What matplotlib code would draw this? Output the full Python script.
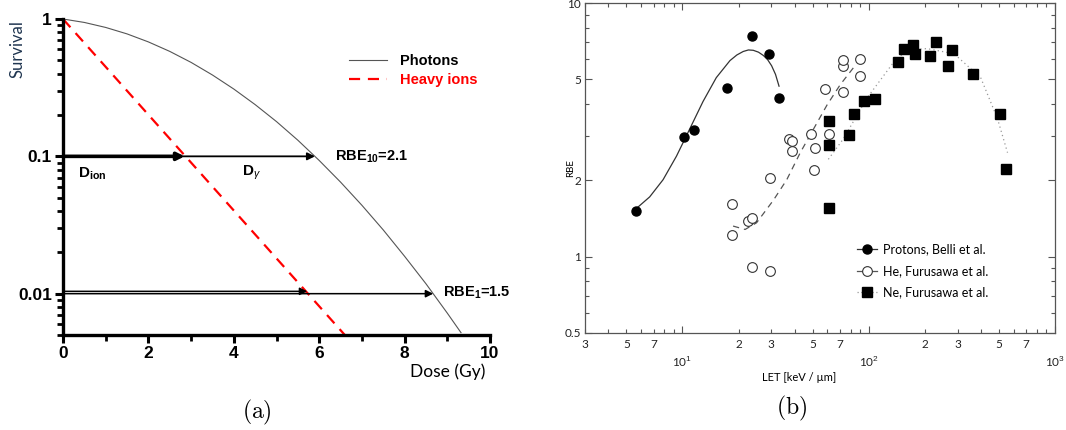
import numpy as np
import matplotlib
matplotlib.use('Agg')
from matplotlib import pyplot as plt
from matplotlib.lines import Line2D
from matplotlib.ticker import FixedLocator, FuncFormatter, NullFormatter

plt.rcParams['mathtext.fontset'] = 'custom'
plt.rcParams['mathtext.rm'] = 'Liberation Sans'
plt.rcParams['mathtext.bf'] = 'Liberation Sans:bold'
plt.rcParams['mathtext.it'] = 'Liberation Sans:italic'

# (a) survival curves
dose_photon = [0, 0.5, 1, 1.5, 2, 2.5, 3, 3.5, 4, 4.5, 5, 5.5, 6, 6.5, 7, 7.5, 8, 8.5, 9, 9.32]
surv_photon = [1, 0.944, 0.868, 0.779, 0.681, 0.581, 0.483, 0.391, 0.309, 0.238, 0.179,
               0.131, 0.0933, 0.0649, 0.0440, 0.0291, 0.0187, 0.0118, 0.00721, 0.0052]
dose_ion = [0, 6.6]
surv_ion = [1, 0.005]

# iso-effect doses at 10% and 1% survival
d10_ion, d10_photon = 2.85, 5.9
d1_ion, d1_photon = 5.72, 8.67

# (b) RBE vs LET
p_let = [5.61, 10.2, 11.6, 17.4, 23.6, 29.0, 33.0]
p_rbe = [1.52, 2.95, 3.15, 4.63, 7.39, 6.27, 4.24]
p_fit_let = [5.61, 6.67, 7.87, 9.29, 10.95, 12.9, 15.2, 18.0, 19.6, 21.2, 22.6, 24.0,
             25.6, 27.2, 28.7, 30.1, 31.6, 33.0]
p_fit_rbe = [1.54, 1.72, 2.01, 2.49, 3.19, 4.09, 5.08, 5.93, 6.24, 6.44, 6.53, 6.51,
             6.40, 6.21, 5.97, 5.66, 5.23, 4.70]

he_let = [18.5, 18.4, 22.4, 23.6, 23.6, 29.5, 29.5, 37.2, 38.8, 38.8,
          49.1, 51.2, 51.0, 58.0, 60.9, 72.8, 73.1, 73.1, 89.4, 89.4]
he_rbe = [1.62, 1.22, 1.38, 1.42, 0.911, 0.881, 2.04, 2.91, 2.87, 2.62,
          3.04, 2.69, 2.20, 4.60, 3.04, 5.62, 5.97, 4.46, 6.04, 5.17]
he_fit_let = [18.7, 21.7, 25.0, 30.8, 36.3, 42.9, 50.6, 59.7, 70.4, 83.0]
he_fit_rbe = [1.32, 1.28, 1.36, 1.67, 2.01, 2.57, 3.19, 3.96, 4.77, 5.57]

ne_let = [61.1, 61.1, 61.1, 78.7, 83.0, 94.8, 107.7, 143, 154, 173, 177,
          212, 231, 268, 279, 362, 508, 547]
ne_rbe = [1.56, 2.76, 3.43, 3.01, 3.65, 4.10, 4.19, 5.87, 6.58, 6.83, 6.31,
          6.19, 7.03, 5.66, 6.54, 5.24, 3.66, 2.22]
ne_fit_let = [60.7, 73.0, 97.9, 136, 161, 206, 287, 399, 491, 556]
ne_fit_rbe = [2.42, 2.91, 4.22, 5.84, 6.54, 6.61, 6.31, 5.08, 3.50, 2.57]

fig = plt.figure(figsize=(10.66, 4.30), dpi=100)

# ---------------- panel (a) ----------------
ax = fig.add_axes([0.0591, 0.2209, 0.4006, 0.7349])
ax.plot(dose_photon, surv_photon, color='#555555', lw=0.8, label='Photons')
ax.plot(dose_ion, surv_ion, color='red', lw=1.6, ls=(0, (5, 3.5)), label='Heavy ions')
ax.set_yscale('log')
ax.set_xlim(0, 10)
ax.set_ylim(0.005, 1)

arrow = dict(arrowstyle='-|>', color='black', shrinkA=0, shrinkB=0, mutation_scale=11)
ax.annotate('', xy=(d10_photon, 0.1), xytext=(0, 0.1), arrowprops=dict(arrow, lw=1.3))
ax.annotate('', xy=(d10_ion, 0.1), xytext=(0, 0.1), arrowprops=dict(arrow, lw=2.6))
ax.annotate('', xy=(d1_photon, 0.01), xytext=(0, 0.01), arrowprops=dict(arrow, lw=1.1))
ax.annotate('', xy=(d1_ion, 0.0104), xytext=(0, 0.0104), arrowprops=dict(arrow, lw=1.1))

ax.text(0.35, 0.074, r'$\mathbf{D_{ion}}$', fontsize=11, va='center')
ax.text(4.18, 0.076, r'$\mathbf{D}_{\gamma}$', fontsize=11, va='center')
ax.text(6.37, 0.1, r'RBE$_{\mathbf{10}}$=2.1', fontsize=10.5, fontweight='bold',
        family='Liberation Sans', va='center')
ax.text(8.89, 0.0102, r'RBE$_{\mathbf{1}}$=1.5', fontsize=10.5, fontweight='bold',
        family='Liberation Sans', va='center')

leg = ax.legend(loc='upper left', bbox_to_anchor=(0.64, 0.93), frameon=False,
                handlelength=2.6, handletextpad=0.9, labelspacing=0.35,
                prop={'family': 'Liberation Sans', 'weight': 'bold', 'size': 10.5},
                labelcolor=['black', 'red'])

for side in ['top', 'right']:
    ax.spines[side].set_visible(False)
for side in ['left', 'bottom']:
    ax.spines[side].set_linewidth(2.4)
ax.set_xticks([0, 2, 4, 6, 8, 10])
ax.set_xticks([1, 3, 5, 7, 9], minor=True)
ax.set_yticks([0.01, 0.1, 1])
ax.set_yticklabels(['0.01', '0.1', '1'])
ax.yaxis.set_minor_formatter(NullFormatter())
ax.tick_params(which='major', direction='out', length=6, width=2.2, labelsize=12.5, pad=2)
ax.tick_params(which='minor', direction='out', length=4, width=2.0)
for lab in ax.get_xticklabels() + ax.get_yticklabels():
    lab.set_fontweight('bold')
    lab.set_family('Liberation Sans')

fig.text(0.016, 0.953, 'Survival', rotation=90, ha='center', va='top',
         fontsize=12, family='Lato', color='#1f3550')
fig.text(0.455, 0.135, 'Dose (Gy)', ha='right', va='center', fontsize=12.5, family='Lato')
fig.text(0.241, 0.040, r'$\mathrm{(a)}$', ha='center', va='center', fontsize=17,
         math_fontfamily='cm')

# ---------------- panel (b) ----------------
bx = fig.add_axes([0.5488, 0.2256, 0.4409, 0.7674])
bx.plot(p_fit_let, p_fit_rbe, color='#333333', lw=0.9)
bx.plot(he_fit_let, he_fit_rbe, color='#555555', lw=0.9, ls=(0, (5, 4)))
bx.plot(ne_fit_let, ne_fit_rbe, color='#999999', lw=0.9, ls=(0, (1, 2.5)))
bx.plot(p_let, p_rbe, 'o', color='black', ms=6.5, zorder=3)
bx.plot(he_let, he_rbe, 'o', mfc='white', mec='#333333', mew=0.8, ms=7, zorder=3)
bx.plot(ne_let, ne_rbe, 's', color='black', ms=6.5, zorder=3)

bx.set_xscale('log')
bx.set_yscale('log')
bx.set_xlim(3, 1000)
bx.set_ylim(0.5, 10)

bx.xaxis.set_major_locator(FixedLocator([10, 100, 1000]))
bx.xaxis.set_major_formatter(FuncFormatter(lambda v, p: r'10$^{%d}$' % round(np.log10(v))))
minor_x = [m * 10 ** e for e in range(0, 3) for m in range(2, 10) if 3 <= m * 10 ** e <= 1000]
bx.xaxis.set_minor_locator(FixedLocator(minor_x))


def mantissa_label(v, p):
    m = int(round(v / 10 ** np.floor(np.log10(v) + 1e-9)))
    return str(m) if m in (2, 3, 5, 7) else ''


bx.xaxis.set_minor_formatter(FuncFormatter(mantissa_label))
bx.yaxis.set_major_locator(FixedLocator([0.5, 1, 2, 5, 10]))
bx.yaxis.set_major_formatter(FuncFormatter(lambda v, p: '%g' % v))
bx.yaxis.set_minor_locator(FixedLocator([0.6, 0.7, 0.8, 0.9, 3, 4, 6, 7, 8, 9]))
bx.yaxis.set_minor_formatter(NullFormatter())

bx.tick_params(which='both', direction='in', top=True, right=True, color='#555555',
               labelsize=8.5, labelcolor='#222222')
bx.tick_params(which='major', length=5, width=0.8)
bx.tick_params(axis='x', which='major', pad=15)
bx.tick_params(axis='x', which='minor', length=3, width=0.8, pad=4)
bx.tick_params(axis='y', which='minor', length=3, width=0.8)
bx.tick_params(axis='y', which='major', pad=3)
for lab in bx.get_xticklabels(which='both') + bx.get_yticklabels():
    lab.set_family('Lato')
for s in bx.spines.values():
    s.set_color('#555555')
    s.set_linewidth(0.9)

handles = [Line2D([], [], color='#333333', lw=0.9, marker='o', ms=6.5, mfc='black', mec='black'),
           Line2D([], [], color='#555555', lw=0.9, marker='o', ms=7, mfc='white', mec='#333333', mew=0.8),
           Line2D([], [], color='#999999', lw=0.9, ls=(0, (1, 2)), marker='s', ms=6.5,
                  mfc='black', mec='black')]
bx.legend(handles, ['Protons, Belli et al.', 'He, Furusawa et al.', 'Ne, Furusawa et al.'],
          loc='upper left', bbox_to_anchor=(0.555, 0.305), frameon=False, handlelength=1.6,
          handletextpad=0.5, labelspacing=0.75, prop={'family': 'Lato', 'size': 9})

fig.text(0.535, 0.609, 'RBE', rotation=90, ha='center', va='center', fontsize=7, family='Lato')
fig.text(0.750, 0.123, 'LET [keV / µm]', ha='center', va='center', fontsize=8, family='Lato')
fig.text(0.743, 0.051, r'$\mathrm{(b)}$', ha='center', va='center', fontsize=17,
         math_fontfamily='cm')

fig.savefig('out.png', dpi=100)
